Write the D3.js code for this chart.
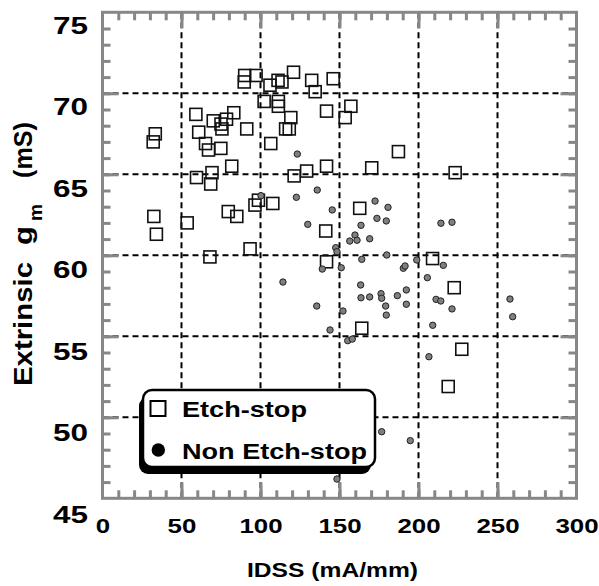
<!DOCTYPE html>
<html><head><meta charset="utf-8">
<script src="https://cdn.jsdelivr.net/npm/d3@7"></script>
<style>
body{margin:0;background:#fff}
svg{display:block}
text{font-family:"Liberation Sans",Arial,Helvetica,sans-serif;font-weight:bold;fill:#000}
</style>
</head><body>
<svg id="c" width="599" height="586"></svg>
<script>
// ---- data ----
const etchX = [90.0,89.7,97.2,102.3,59.1,70.1,75.0,78.5,83.1,75.6,91.3,33.4,32.1,60.9,65.2,67.1,74.9,81.8,59.5,69.3,68.5,32.5,34.1,53.6,79.6,85.0,96.5,98.7,68.0,93.4,120.9,106.0,111.1,113.6,132.4,146.0,134.6,111.3,111.3,141.8,157.2,153.6,119.2,115.9,118.2,106.5,187.3,121.3,129.2,141.8,170.4,107.8,162.8,141.3,141.8,164.1,223.2,208.9,222.6,227.4,218.8];
const etchY = [71.1,70.7,71.1,69.5,68.7,68.3,68.1,68.4,68.8,67.8,67.8,67.5,67.0,67.6,66.9,66.5,66.6,65.5,64.8,65.1,64.4,62.4,61.3,62.0,62.7,62.4,63.1,63.4,59.9,60.4,71.3,70.5,70.8,70.7,70.8,70.9,70.1,69.5,69.2,68.9,69.2,68.5,68.5,67.8,67.8,66.9,66.4,64.9,65.2,65.5,65.4,63.2,62.9,61.5,59.6,55.5,65.1,59.8,58.0,54.2,51.9];
const nonEtchX = [123.3,135.9,122.7,100.3,145.4,129.9,172.5,180.7,173.7,179.6,163.6,159.8,161.1,156.5,169.1,147.6,148.4,164.1,179.9,139.1,151.1,190.4,191.5,114.2,163.4,163.6,169.1,176.3,176.7,186.6,192.3,179.2,192.3,179.6,135.6,152.2,144.0,155.2,158.1,176.7,194.8,148.4,214.2,221.2,198.9,215.7,205.6,211.1,214.1,221.2,257.9,259.6,209.0,206.6];
const nonEtchY = [66.25,64.03,63.58,63.68,62.80,61.91,63.35,62.96,62.28,62.12,61.85,61.25,60.93,60.88,61.02,60.47,60.22,59.75,60.02,59.15,59.23,59.20,59.34,58.35,58.17,57.38,57.43,57.63,57.35,57.51,57.86,56.87,56.98,56.31,56.87,56.56,55.39,54.73,54.83,49.11,48.56,46.19,61.98,62.04,59.71,59.38,58.62,57.28,57.18,56.69,57.30,56.21,55.68,53.74];
const xTicks = [0,50,100,150,200,250,300];
const yTicks = [45,50,55,60,65,70,75];
const xGrid = [50,100,150,200,250];
const yGrid = [50,55,60,65,70];
const legendLabels = ["Etch-stop","Non Etch-stop"];
const xTitle = "IDSS (mA/mm)";

// ---- scales ----
const x = d3.scaleLinear().domain([0,300]).range([102.5,576.5]);
const y = d3.scaleLinear().domain([45,75]).range([498.3,12.3]);
const yLab = d3.scaleLinear().domain([45,75]).range([514,24.5]);
const svg = d3.select("#c");
const GRAY = "#878787";

// grid
svg.append("g").selectAll("line").data(xGrid).join("line")
  .attr("x1",d=>x(d)).attr("x2",d=>x(d)).attr("y1",y(75)).attr("y2",y(45))
  .attr("stroke","#000").attr("stroke-width",2).attr("stroke-dasharray","6,4");
svg.append("g").selectAll("line").data(yGrid).join("line")
  .attr("y1",d=>y(d)).attr("y2",d=>y(d)).attr("x1",x(0)).attr("x2",x(300))
  .attr("stroke","#000").attr("stroke-width",2).attr("stroke-dasharray","6,4");

// frame ticks
function tickAxis(axis, tr){
  const g = svg.append("g").attr("transform",tr).call(axis);
  g.select(".domain").remove();
  g.selectAll("line").attr("stroke",GRAY).attr("stroke-width",3);
  g.selectAll("text").remove();
}
const xMinor = d3.range(10,300,10), yMinor = d3.range(46,75,1);
tickAxis(d3.axisBottom(x).tickValues(xMinor).tickSize(-8).tickFormat(""), `translate(0,${y(45)})`);
tickAxis(d3.axisTop(x).tickValues(xMinor).tickSize(-8).tickFormat(""), `translate(0,${y(75)})`);
tickAxis(d3.axisLeft(y).tickValues(yMinor).tickSize(-8).tickFormat(""), `translate(${x(0)},0)`);
tickAxis(d3.axisRight(y).tickValues(yMinor).tickSize(-8).tickFormat(""), `translate(${x(300)},0)`);
tickAxis(d3.axisBottom(x).tickValues(xGrid).tickSize(-16).tickFormat(""), `translate(0,${y(45)})`);
tickAxis(d3.axisTop(x).tickValues(xGrid).tickSize(-16).tickFormat(""), `translate(0,${y(75)})`);
tickAxis(d3.axisLeft(y).tickValues(yGrid).tickSize(-16).tickFormat(""), `translate(${x(0)},0)`);
tickAxis(d3.axisRight(y).tickValues(yGrid).tickSize(-16).tickFormat(""), `translate(${x(300)},0)`);

svg.append("rect").attr("x",x(0)).attr("y",y(75)).attr("width",x(300)-x(0)).attr("height",y(45)-y(75))
  .attr("fill","none").attr("stroke",GRAY).attr("stroke-width",3);

// tick labels
const gx = svg.append("g").attr("transform",`translate(0,${y(45)})`)
  .call(d3.axisBottom(x).tickValues(xTicks).tickSize(0).tickFormat(d3.format("d")));
gx.select(".domain").remove();
gx.selectAll("text").attr("y",35).attr("dy",0).attr("x",0).attr("font-size",21).attr("font-family",null)
  .attr("textLength", d=>String(d).length*14.4).attr("lengthAdjust","spacingAndGlyphs");
const gy = svg.append("g").attr("transform",`translate(88,0)`)
  .call(d3.axisLeft(yLab).tickValues(yTicks).tickSize(0).tickPadding(0).tickFormat(d3.format("d")));
gy.select(".domain").remove();
gy.selectAll("text").attr("dy",8.5).attr("x",0).attr("font-size",23.5).attr("font-family",null)
  .attr("textLength", d=>String(d).length*17.5).attr("lengthAdjust","spacingAndGlyphs");

// data points
svg.append("g").selectAll("rect").data(etchX.map((d,i)=>[d,etchY[i]])).join("rect")
  .attr("x",d=>x(d[0])-6).attr("y",d=>y(d[1])-6).attr("width",12).attr("height",12)
  .attr("fill","none").attr("stroke","#111").attr("stroke-width",1.6);
svg.append("g").selectAll("circle").data(nonEtchX.map((d,i)=>[d,nonEtchY[i]])).join("circle")
  .attr("cx",d=>x(d[0])).attr("cy",d=>y(d[1])).attr("r",3.2)
  .attr("fill","#7f7f7f").attr("stroke","#222").attr("stroke-width",1);

// axis titles
svg.append("text").attr("x",247).attr("y",577).attr("font-size",21)
  .attr("textLength",171).attr("lengthAdjust","spacingAndGlyphs").text(xTitle);
const yt = svg.append("g").attr("transform","translate(32,0) rotate(-90)");
yt.append("text").attr("x",-386).attr("y",0).attr("font-size",26).attr("textLength",124).attr("lengthAdjust","spacingAndGlyphs").text("Extrinsic");
yt.append("text").attr("x",-245).attr("y",0).attr("font-size",26).attr("textLength",19).attr("lengthAdjust","spacingAndGlyphs").text("g");
yt.append("text").attr("x",-221).attr("y",10).attr("font-size",18).attr("textLength",17).attr("lengthAdjust","spacingAndGlyphs").text("m");
yt.append("text").attr("x",-178).attr("y",0).attr("font-size",26).attr("textLength",56).attr("lengthAdjust","spacingAndGlyphs").text("(mS)");

// legend
const lg = svg.append("g");
lg.append("rect").attr("x",139).attr("y",397).attr("width",232).attr("height",77).attr("rx",9).attr("fill","#000");
lg.append("rect").attr("x",143).attr("y",390).attr("width",232).attr("height",77).attr("rx",9)
  .attr("fill","#fff").attr("stroke","#000").attr("stroke-width",2.5);
const rowY = i => 408.5 + i*41.5;
lg.append("rect").attr("x",150.5).attr("y",rowY(0)-7.5).attr("width",15).attr("height",15)
  .attr("fill","none").attr("stroke","#000").attr("stroke-width",2);
lg.append("circle").attr("cx",158.3).attr("cy",rowY(1)).attr("r",6.7).attr("fill","#000");
const legW = [125,185];
lg.selectAll("text.l").data(legendLabels).join("text").attr("class","l")
  .attr("x",182).attr("y",(d,i)=>rowY(i)+8.5).attr("font-size",22)
  .attr("textLength",(d,i)=>legW[i]).attr("lengthAdjust","spacingAndGlyphs").text(d=>d);
</script>
</body></html>
